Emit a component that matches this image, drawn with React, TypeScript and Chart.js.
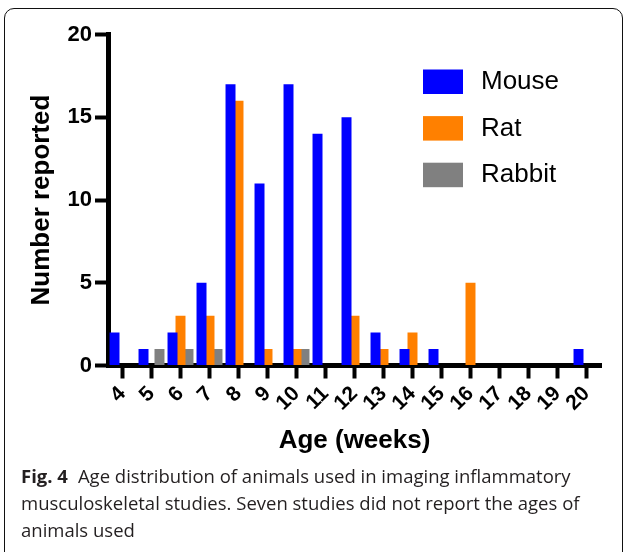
import React, { useEffect, useRef } from "react";
import { Chart, registerables } from "chart.js";

Chart.register(...registerables);

const categories = ["4", "5", "6", "7", "8", "9", "10", "11", "12", "13", "14", "15", "16", "17", "18", "19", "20"];
const mouse = [2, 1, 2, 5, 17, 11, 17, 14, 15, 2, 1, 1, 0, 0, 0, 0, 1];
const rat = [0, 0, 3, 3, 16, 1, 1, 0, 3, 1, 2, 0, 5, 0, 0, 0, 0];
const rabbit = [0, 1, 1, 1, 0, 0, 1, 0, 0, 0, 0, 0, 0, 0, 0, 0, 0];
const yTicks = [0, 5, 10, 15, 20];
const seriesNames = ["Mouse", "Rat", "Rabbit"];
const seriesColors = ["#0000FF", "#FF8000", "#808080"];

const FONT = "'Liberation Sans', Arial, Helvetica, sans-serif";

const legendPlugin = {
  id: "boxLegend",
  afterDraw(chart: any) {
    const ctx = chart.ctx;
    ctx.save();
    chart.data.datasets.forEach((ds: any, i: number) => {
      const y = 69.5 + i * 46.6;
      ctx.fillStyle = ds.backgroundColor;
      ctx.fillRect(423, y, 40, 24.5);
      ctx.fillStyle = "#000";
      ctx.font = `26px ${FONT}`;
      ctx.textBaseline = "middle";
      ctx.textAlign = "left";
      ctx.fillText(ds.label, 481, y + 12.5);
    });
    ctx.restore();
  },
};

export default function App() {
  const ref = useRef<HTMLCanvasElement | null>(null);

  useEffect(() => {
    if (!ref.current) return;
    const data = [mouse, rat, rabbit];
    const chart = new Chart(ref.current, {
      type: "bar",
      data: {
        labels: categories,
        datasets: seriesNames.map((name, i) => ({
          label: name,
          data: data[i],
          backgroundColor: seriesColors[i],
          borderWidth: 0,
          categoryPercentage: 0.826,
          barPercentage: 1.25,
        })),
      },
      options: {
        animation: false,
        responsive: false,
        maintainAspectRatio: false,
        layout: { padding: { left: 0, top: 34.5, right: 23, bottom: 0 } },
        plugins: {
          legend: { display: false },
          tooltip: { enabled: false },
        },
        scales: {
          x: {
            type: "category",
            offset: true,
            z: 1,
            grid: {
              offset: false,
              drawOnChartArea: false,
              drawTicks: true,
              tickLength: 13,
              tickWidth: 4,
              tickColor: "#000",
            },
            border: { display: true, width: 5, color: "#000" },
            ticks: {
              autoSkip: false,
              minRotation: 45,
              maxRotation: 45,
              color: "#000",
              padding: 3,
              font: { family: FONT, size: 21, weight: "bold" },
            },
            title: {
              display: true,
              text: "Age (weeks)",
              color: "#000",
              font: { family: FONT, size: 26, weight: "bold" },
              padding: { top: 0, bottom: 13.4 },
            },
            afterFit: (s: any) => {
              s.height = 104.5;
            },
          },
          y: {
            min: 0,
            max: 20,
            z: 1,
            afterBuildTicks: (s: any) => {
              s.ticks = yTicks.map((v) => ({ value: v }));
            },
            grid: {
              drawOnChartArea: false,
              drawTicks: true,
              tickLength: 13,
              tickWidth: 4,
              tickColor: "#000",
            },
            border: { display: true, width: 5, color: "#000" },
            ticks: {
              color: "#000",
              padding: 3,
              font: { family: FONT, size: 22, weight: "bold" },
            },
            title: {
              display: true,
              text: "Number reported",
              color: "#000",
              font: { family: FONT, size: 26, weight: "bold" },
              padding: { top: 26.4, bottom: 0 },
            },
            afterFit: (s: any) => {
              s.width = 108;
            },
          },
        },
      },
      plugins: [legendPlugin],
    } as any);
    return () => chart.destroy();
  }, []);

  return (
    <div
      style={{
        position: "fixed",
        left: 0,
        top: 0,
        width: 624,
        height: 552,
        overflow: "hidden",
        background: "#fff",
      }}
    >
      <div
        style={{
          position: "absolute",
          left: 4,
          top: 8,
          width: 619,
          height: 570,
          boxSizing: "border-box",
          border: "1.2px solid #111",
          borderRadius: 10,
        }}
      />
      <canvas
        ref={ref}
        width={624}
        height={470}
        style={{ position: "absolute", left: 0, top: 0, display: "block" }}
      />
      <div
        style={{
          position: "absolute",
          left: 21,
          top: 462,
          width: 600,
          fontFamily: "'Open Sans', sans-serif",
          fontSize: 18.5,
          lineHeight: "27px",
          color: "#231f20",
          whiteSpace: "nowrap",
        }}
      >
        <span style={{ fontWeight: "bold" }}>Fig. 4</span>
        <span style={{ marginLeft: 10 }}>Age distribution of animals used in imaging inflammatory</span>
        <br />
        musculoskeletal studies. Seven studies did not report the ages of
        <br />
        animals used
      </div>
    </div>
  );
}
